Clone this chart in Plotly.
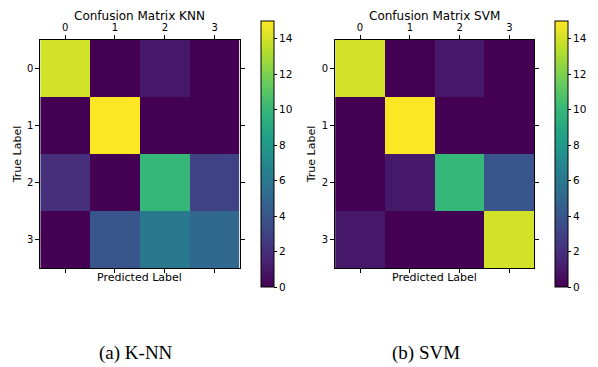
import plotly.graph_objects as go

labels = [0, 1, 2, 3]
knn = [[14, 0, 1, 0],
       [0, 15, 0, 0],
       [2, 0, 10, 3],
       [0, 4, 6, 5]]
svm = [[14, 0, 1, 0],
       [0, 15, 0, 0],
       [0, 1, 10, 4],
       [1, 0, 0, 14]]
titles = ["Confusion Matrix KNN", "Confusion Matrix SVM"]
captions = ["(a) K-NN", "(b) SVM"]
cbar_ticks = [0, 2, 4, 6, 8, 10, 12, 14]

W, H = 598, 367
FONT = "DejaVu Sans"

def px(x):
    return x / W

def py(y):
    return 1 - y / H

panels = [
    dict(z=knn, x0=41.5, x1=247, cbx=259, cap=140),
    dict(z=svm, x0=345.5, x1=551, cbx=562, cap=439),
]
top, bottom = 40, 268

fig = go.Figure()
annotations = []
for i, p in enumerate(panels):
    xa = "x" if i == 0 else "x2"
    ya = "y" if i == 0 else "y2"
    fig.add_trace(go.Heatmap(
        z=p["z"], x=labels, y=labels, xaxis=xa, yaxis=ya,
        colorscale="Viridis", zmin=0, zmax=15,
        colorbar=dict(
            x=px(p["cbx"]), xanchor="left", xref="paper",
            y=py((11 + 297) / 2), yanchor="middle",
            lenmode="pixels", len=286, thickness=13,
            outlinecolor="black", outlinewidth=1,
            tickvals=cbar_ticks, ticks="outside", ticklen=3,
            tickcolor="black",
            tickfont=dict(family=FONT, size=10.5, color="black"),
        ),
        hoverinfo="skip",
    ))
    suffix = "" if i == 0 else "2"
    axis_common = dict(showline=True, linecolor="black", linewidth=1,
                       mirror="ticks", ticks="outside", ticklen=4,
                       tickcolor="black", showgrid=False, zeroline=False,
                       tickvals=labels,
                       tickfont=dict(family=FONT, size=10, color="black"))
    fig.update_layout(**{
        "xaxis" + suffix: dict(domain=[px(p["x0"]), px(p["x1"])],
                               range=[-0.5, 3.5], side="top",
                               anchor="y" + suffix, **axis_common),
        "yaxis" + suffix: dict(domain=[py(bottom), py(top)],
                               range=[3.5, -0.5],
                               anchor="x" + suffix,
                               title=dict(text="True Label", standoff=3,
                                          font=dict(family=FONT, size=11, color="black")),
                               **axis_common),
    })
    cx = (p["x0"] + p["x1"]) / 2
    annotations.append(dict(text=titles[i], x=px(cx), y=py(16), xref="paper", yref="paper",
                            xanchor="center", yanchor="middle",
                            showarrow=False, font=dict(family=FONT, size=12, color="black")))
    annotations.append(dict(text="Predicted Label", x=px(cx), y=py(277), xref="paper", yref="paper",
                            xanchor="center", yanchor="middle",
                            showarrow=False, font=dict(family=FONT, size=11, color="black")))
    annotations.append(dict(text=captions[i], x=px(p["cap"]), y=py(353), xref="paper", yref="paper",
                            xanchor="center", yanchor="middle",
                            showarrow=False, font=dict(family="Liberation Serif", size=19, color="black")))

fig.update_layout(width=W, height=H, margin=dict(l=0, r=0, t=0, b=0),
                  paper_bgcolor="white", plot_bgcolor="white",
                  annotations=annotations, showlegend=False)
fig.write_html("out.html")
